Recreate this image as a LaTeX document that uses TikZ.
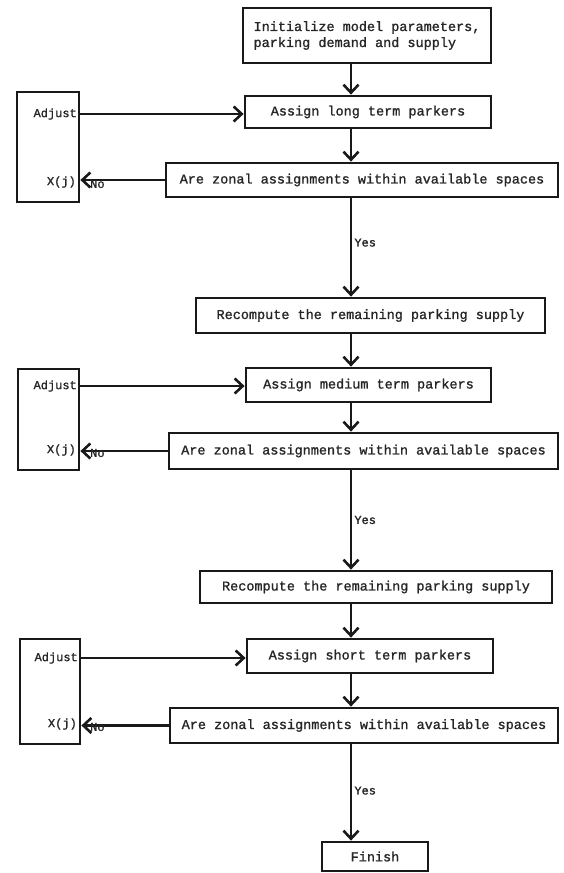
\documentclass[tikz,border=0pt]{standalone}
\usepackage{fontspec}
\setmonofont{Liberation Mono}[FakeBold=1.2]
\usetikzlibrary{arrows.meta}
\begin{document}
\begin{tikzpicture}[x=1pt,y=-1pt,
  every node/.style={font=\ttfamily\fontsize{13.5}{16}\selectfont, text=black!85},
  box/.style={draw=black!90, line width=2.8pt, rectangle, inner sep=0pt, minimum width=#1},
  conn/.style={draw=black!90, line width=2.8pt, -{Straight Barb[length=8pt,width=15pt,line width=2.6pt]}},
  lbl/.style={inner sep=0pt, font=\ttfamily\fontsize{12}{14}\selectfont}
]
\useasboundingbox[fill=white] (0,0) rectangle (564,873);
\coordinate (m) at (351,0);

% main column
\node[box=248pt, minimum height=55pt, align=left] (init) at (367,35.5)
  {Initialize model parameters,\\parking demand and supply};
\node[box=246pt, minimum height=32pt] (a1) at (368,112) {Assign long term parkers};
\node[box=392pt, minimum height=34pt] (d1) at (362,180) {Are zonal assignments within available spaces};
\node[box=349pt, minimum height=35pt] (r1) at (370.5,315.5) {Recompute the remaining parking supply};
\node[box=245pt, minimum height=34pt] (a2) at (368.5,385) {Assign medium term parkers};
\node[box=389pt, minimum height=36pt] (d2) at (363.5,451) {Are zonal assignments within available spaces};
\node[box=352pt, minimum height=32pt] (r2) at (376,587) {Recompute the remaining parking supply};
\node[box=246pt, minimum height=34pt] (a3) at (370,656) {Assign short term parkers};
\node[box=388pt, minimum height=35pt] (d3) at (364,725.5) {Are zonal assignments within available spaces};
\node[box=106pt, minimum height=29pt] (fin) at (375,856.5) {Finish};

% adjust boxes
\node[box=62pt, minimum height=110pt] (adj1) at (48,147) {};
\node[box=61pt, minimum height=101pt] (adj2) at (48.5,419.5) {};
\node[box=60pt, minimum height=105pt] (adj3) at (50,691.5) {};

\node[lbl, anchor=east] (t1) at (77,114) {Adjust};
\node[lbl, anchor=east] (x1) at (76,182) {X(j)};
\node[lbl, anchor=east] (t2) at (77,386) {Adjust};
\node[lbl, anchor=east] (x2) at (76,450) {X(j)};
\node[lbl, anchor=east] (t3) at (78,658) {Adjust};
\node[lbl, anchor=east] (x3) at (77,724) {X(j)};

% vertical flow
\draw[conn] (init.south -| m) -- (a1.north -| m);
\draw[conn] (a1.south -| m) -- (d1.north -| m);
\draw[conn] (d1.south -| m) -- (r1.north -| m)
  node[lbl, pos=0.45, anchor=west, xshift=2pt] (y1) {Yes};
\draw[conn] (r1.south -| m) -- (a2.north -| m);
\draw[conn] (a2.south -| m) -- (d2.north -| m);
\draw[conn] (d2.south -| m) -- (r2.north -| m)
  node[lbl, pos=0.5, anchor=west, xshift=2pt] (y2) {Yes};
\draw[conn] (r2.south -| m) -- (a3.north -| m);
\draw[conn] (a3.south -| m) -- (d3.north -| m);
\draw[conn] (d3.south -| m) -- (fin.north -| m)
  node[lbl, pos=0.48, anchor=west, xshift=2pt] (y3) {Yes};

% adjust arrows
\draw[conn] (adj1.east |- t1.east) -- (a1.west |- t1.east);
\draw[conn] (adj2.east |- t2.east) -- (a2.west |- t2.east);
\draw[conn] (adj3.east |- t3.east) -- (a3.west |- t3.east);

% no arrows
\draw[conn] (d1.west) -- (adj1.east |- d1.west);
\draw[conn] (d2.west) -- (adj2.east |- d2.west);
\draw[conn] (d3.west) -- (adj3.east |- d3.west);
\node[lbl, anchor=west] (n1) at (90,184) {No};
\node[lbl, anchor=west] (n2) at (90,453) {No};
\node[lbl, anchor=west] (n3) at (90,727) {No};
\end{tikzpicture}
\end{document}
